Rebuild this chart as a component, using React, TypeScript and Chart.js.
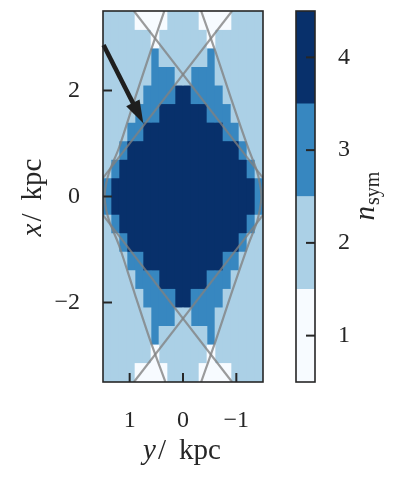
import React, { useEffect, useRef } from 'react';
import { Chart, registerables } from 'chart.js';

Chart.register(...registerables);

// ---- data ----
// column centres along y / kpc (left to right, axis reversed)
const columnCenters = [1.425, 1.275, 1.125, 0.975, 0.825, 0.675, 0.525, 0.375, 0.225, 0.075,
  -0.075, -0.225, -0.375, -0.525, -0.675, -0.825, -0.975, -1.125, -1.275, -1.425];
// row edges along x / kpc (top to bottom)
const rowEdges = [3.5, 3.15, 2.8, 2.45, 2.1, 1.75, 1.4, 1.05, 0.7, 0.35, 0,
  -0.35, -0.7, -1.05, -1.4, -1.75, -2.1, -2.45, -2.8, -3.15, -3.5];
// n_sym per cell, rows top to bottom, columns left to right
const nsymGrid = [
  [2,2,2,2,1,1,1,1,2,2,2,2,1,1,1,1,2,2,2,2],
  [2,2,2,2,2,2,1,2,2,2,2,2,2,1,2,2,2,2,2,2],
  [2,2,2,2,2,2,3,2,2,2,2,2,2,3,2,2,2,2,2,2],
  [2,2,2,2,2,2,3,3,3,2,2,3,3,3,2,2,2,2,2,2],
  [2,2,2,2,2,3,3,3,3,4,4,3,3,3,3,2,2,2,2,2],
  [2,2,2,2,3,3,3,4,4,4,4,4,4,3,3,3,2,2,2,2],
  [2,2,2,3,3,4,4,4,4,4,4,4,4,4,4,3,3,2,2,2],
  [2,2,3,4,4,4,4,4,4,4,4,4,4,4,4,4,4,3,2,2],
  [2,3,4,4,4,4,4,4,4,4,4,4,4,4,4,4,4,4,3,2],
  [3,4,4,4,4,4,4,4,4,4,4,4,4,4,4,4,4,4,4,3],
  [3,4,4,4,4,4,4,4,4,4,4,4,4,4,4,4,4,4,4,3],
  [2,3,4,4,4,4,4,4,4,4,4,4,4,4,4,4,4,4,3,2],
  [2,2,3,4,4,4,4,4,4,4,4,4,4,4,4,4,4,3,2,2],
  [2,2,2,3,3,4,4,4,4,4,4,4,4,4,4,3,3,2,2,2],
  [2,2,2,2,3,3,3,4,4,4,4,4,4,3,3,3,2,2,2,2],
  [2,2,2,2,2,3,3,3,3,4,4,3,3,3,3,2,2,2,2,2],
  [2,2,2,2,2,2,3,3,3,2,2,3,3,3,2,2,2,2,2,2],
  [2,2,2,2,2,2,3,2,2,2,2,2,2,3,2,2,2,2,2,2],
  [2,2,2,2,2,2,1,2,2,2,2,2,2,1,2,2,2,2,2,2],
  [2,2,2,2,1,1,1,1,2,2,2,2,1,1,1,1,2,2,2,2],
];
const levelValues = [1, 2, 3, 4];
const levelBounds = [0.5, 1.5, 2.5, 3.5, 4.5];
const levelColors = ['#f7fbff', '#abd0e6', '#3787c0', '#08306b'];

const xTickValues = [1, 0, -1];
const yTickValues = [-2, 0, 2];
const cbarTickValues = [1, 2, 3, 4];

// grey curves (y/kpc, x/kpc)
const steepLeft = [
  { x: 0.35, y: 3.5 }, { x: 0.62, y: 2.7 }, { x: 0.9, y: 1.85 }, { x: 1.2, y: 0.92 },
  { x: 1.37, y: 0.5 }, { x: 1.44, y: 0.25 }, { x: 1.47, y: 0 }, { x: 1.44, y: -0.25 },
  { x: 1.37, y: -0.5 }, { x: 1.2, y: -0.92 }, { x: 0.9, y: -1.85 }, { x: 0.62, y: -2.7 },
  { x: 0.33, y: -3.5 },
];
const steepRight = [
  { x: -0.34, y: 3.5 }, { x: -0.62, y: 2.7 }, { x: -0.9, y: 1.85 }, { x: -1.22, y: 0.92 },
  { x: -1.38, y: 0.5 }, { x: -1.44, y: 0.25 }, { x: -1.47, y: 0 }, { x: -1.44, y: -0.25 },
  { x: -1.38, y: -0.5 }, { x: -1.22, y: -0.92 }, { x: -0.9, y: -1.85 }, { x: -0.62, y: -2.7 },
  { x: -0.34, y: -3.5 },
];
const shallowA = [{ x: 0.92, y: 3.5 }, { x: -1.5, y: 0.35 }];
const shallowB = [{ x: -0.92, y: 3.5 }, { x: 1.5, y: 0.35 }];
const shallowC = [{ x: 0.92, y: -3.5 }, { x: -1.5, y: -0.35 }];
const shallowD = [{ x: -0.92, y: -3.5 }, { x: 1.5, y: -0.35 }];

const arrowTail = { x: 1.49, y: 2.86 };
const arrowHead = { x: 0.745, y: 1.38 };

// ---- styling ----
const FONT = '"Liberation Serif", "Times New Roman", serif';
const INK = '#262626';
const GREY = 'rgba(128,128,128,0.78)';

const fmt = (v: number) => (v < 0 ? '\u2212' + Math.abs(v) : String(v));

function buildBarDatasets() {
  return levelValues.map((lv, li) => {
    const data: { x: number; y: [number, number] }[] = [];
    columnCenters.forEach((cx, ci) => {
      let r = 0;
      while (r < nsymGrid.length) {
        if (nsymGrid[r][ci] === lv) {
          const start = r;
          while (r + 1 < nsymGrid.length && nsymGrid[r + 1][ci] === lv) r++;
          data.push({ x: cx, y: [rowEdges[r + 1], rowEdges[start]] });
        }
        r++;
      }
    });
    return {
      type: 'bar' as const,
      label: 'n_sym=' + lv,
      data,
      backgroundColor: levelColors[li],
      borderWidth: 0,
      grouped: false,
      categoryPercentage: 1,
      barPercentage: 1,
      order: 2,
    };
  });
}

function lineDs(points: { x: number; y: number }[], tension: number) {
  return {
    type: 'line' as const,
    data: points,
    borderColor: GREY,
    borderWidth: 2.2,
    pointRadius: 0,
    fill: false,
    tension,
    order: 1,
  };
}

function drawMixed(ctx: CanvasRenderingContext2D, parts: { t: string; italic: boolean; dx: number }[], size: number) {
  parts.forEach((p) => {
    ctx.font = (p.italic ? 'italic ' : '') + size + 'px ' + FONT;
    ctx.fillText(p.t, p.dx, 0);
  });
}

const titleParts = (v: string) => [
  { t: v, italic: true, dx: 0 },
  { t: '/', italic: false, dx: 15 },
  { t: 'kpc', italic: false, dx: 36 },
];

const mainDecor = {
  id: 'mainDecor',
  afterDatasetsDraw(chart: any) {
    const { ctx, scales } = chart;
    const xs = scales.x, ys = scales.y;
    const tx = xs.getPixelForValue(arrowTail.x), ty = ys.getPixelForValue(arrowTail.y);
    const hx = xs.getPixelForValue(arrowHead.x), hy = ys.getPixelForValue(arrowHead.y);
    const len = Math.hypot(hx - tx, hy - ty);
    const ux = (hx - tx) / len, uy = (hy - ty) / len;
    const headLen = 23, headHalf = 7.5;
    const bx = hx - ux * headLen, by = hy - uy * headLen;
    ctx.save();
    ctx.strokeStyle = '#1e1e1e';
    ctx.fillStyle = '#1e1e1e';
    ctx.lineWidth = 4.5;
    ctx.lineCap = 'butt';
    ctx.beginPath();
    ctx.moveTo(tx, ty);
    ctx.lineTo(bx + ux * 2, by + uy * 2);
    ctx.stroke();
    ctx.beginPath();
    ctx.moveTo(hx, hy);
    ctx.lineTo(bx - uy * headHalf, by + ux * headHalf);
    ctx.lineTo(bx + uy * headHalf, by - ux * headHalf);
    ctx.closePath();
    ctx.fill();
    ctx.restore();
  },
  afterDraw(chart: any) {
    const { ctx, chartArea, scales } = chart;
    const { left, right, top, bottom } = chartArea;
    ctx.save();
    ctx.strokeStyle = INK;
    ctx.lineWidth = 1.6;
    ctx.strokeRect(left, top, right - left, bottom - top);
    ctx.lineWidth = 2;
    yTickValues.forEach((v) => {
      const y = scales.y.getPixelForValue(v);
      ctx.beginPath(); ctx.moveTo(left, y); ctx.lineTo(left + 9, y); ctx.stroke();
    });
    xTickValues.forEach((v) => {
      const x = scales.x.getPixelForValue(v);
      ctx.beginPath(); ctx.moveTo(x, bottom); ctx.lineTo(x, bottom - 9); ctx.stroke();
    });
    ctx.fillStyle = INK;
    ctx.textBaseline = 'alphabetic';
    ctx.textAlign = 'left';
    const cx = (left + right) / 2;
    ctx.save();
    ctx.translate(cx - 40, 459);
    drawMixed(ctx, titleParts('y'), 29);
    ctx.restore();
    ctx.save();
    const cy = (top + bottom) / 2;
    ctx.translate(41, cy + 40);
    ctx.rotate(-Math.PI / 2);
    drawMixed(ctx, titleParts('x'), 29);
    ctx.restore();
    ctx.restore();
  },
};

const cbarDecor = {
  id: 'cbarDecor',
  afterDraw(chart: any) {
    const { ctx, chartArea, scales } = chart;
    const { left, right, top, bottom } = chartArea;
    ctx.save();
    ctx.strokeStyle = INK;
    ctx.lineWidth = 1.6;
    ctx.strokeRect(left, top, right - left, bottom - top);
    ctx.lineWidth = 2;
    cbarTickValues.forEach((v) => {
      const y = scales.y.getPixelForValue(v);
      ctx.beginPath(); ctx.moveTo(right, y); ctx.lineTo(right - 9, y); ctx.stroke();
    });
    ctx.fillStyle = INK;
    ctx.textBaseline = 'alphabetic';
    ctx.textAlign = 'left';
    ctx.translate(94, (top + bottom) / 2 + 24);
    ctx.rotate(-Math.PI / 2);
    ctx.font = 'italic 29px ' + FONT;
    ctx.fillText('n', 0, 0);
    const nw = ctx.measureText('n').width;
    ctx.font = '20px ' + FONT;
    ctx.fillText('sym', nw + 1, 5);
    ctx.restore();
  },
};

const zeroPad = (s: any) => {
  s.paddingTop = 0; s.paddingBottom = 0; s.paddingLeft = 0; s.paddingRight = 0;
};

export default function App() {
  const mainRef = useRef<HTMLCanvasElement>(null);
  const cbarRef = useRef<HTMLCanvasElement>(null);

  useEffect(() => {
    const tickFont = { family: FONT, size: 24 };
    const main = new Chart(mainRef.current as HTMLCanvasElement, {
      type: 'bar',
      data: {
        datasets: [
          lineDs(steepLeft, 0.3),
          lineDs(steepRight, 0.3),
          lineDs(shallowA, 0),
          lineDs(shallowB, 0),
          lineDs(shallowC, 0),
          lineDs(shallowD, 0),
          ...buildBarDatasets(),
        ] as any,
      },
      options: {
        responsive: false,
        devicePixelRatio: 1,
        animation: false,
        events: [],
        layout: { padding: { left: 0, top: 11, right: 17, bottom: 0 } },
        plugins: { legend: { display: false }, tooltip: { enabled: false } },
        scales: {
          x: {
            type: 'linear',
            min: -1.5,
            max: 1.5,
            reverse: true,
            offset: false,
            grid: { display: false, offset: false, drawTicks: false },
            border: { display: false },
            ticks: { font: tickFont, color: INK, padding: 24, maxRotation: 0, callback: (v: any) => fmt(Number(v)) },
            afterBuildTicks: (s: any) => { s.ticks = xTickValues.map((v) => ({ value: v })); },
            afterFit: (s: any) => { s.height = 101; zeroPad(s); },
          },
          y: {
            type: 'linear',
            min: -3.5,
            max: 3.5,
            grid: { display: false, drawTicks: false },
            border: { display: false },
            ticks: { font: tickFont, color: INK, padding: 23, callback: (v: any) => fmt(Number(v)) },
            afterBuildTicks: (s: any) => { s.ticks = yTickValues.map((v) => ({ value: v })); },
            afterFit: (s: any) => { s.width = 103; zeroPad(s); },
          },
        },
      } as any,
      plugins: [mainDecor],
    });

    const cbar = new Chart(cbarRef.current as HTMLCanvasElement, {
      type: 'bar',
      data: {
        labels: ['n_sym'],
        datasets: levelValues.map((lv, i) => ({
          label: String(lv),
          data: [[levelBounds[i], levelBounds[i + 1]]],
          backgroundColor: levelColors[i],
          borderWidth: 0,
          grouped: false,
          categoryPercentage: 1,
          barPercentage: 1,
        })) as any,
      },
      options: {
        responsive: false,
        devicePixelRatio: 1,
        animation: false,
        events: [],
        layout: { padding: { left: 16, top: 11, right: 0, bottom: 101 } },
        plugins: { legend: { display: false }, tooltip: { enabled: false } },
        scales: {
          x: { display: false },
          y: {
            position: 'right',
            min: 0.5,
            max: 4.5,
            grid: { display: false, drawTicks: false },
            border: { display: false },
            ticks: { font: tickFont, color: INK, padding: 23 },
            afterBuildTicks: (s: any) => { s.ticks = cbarTickValues.map((v) => ({ value: v })); },
            afterFit: (s: any) => { s.width = 84; zeroPad(s); },
          },
        },
      } as any,
      plugins: [cbarDecor],
    });

    return () => {
      main.destroy();
      cbar.destroy();
    };
  }, []);

  return (
    <div style={{ position: 'absolute', left: 0, top: 0, width: 399, height: 483, background: '#ffffff' }}>
      <canvas ref={mainRef} width={280} height={483}
        style={{ position: 'absolute', left: 0, top: 0, width: 280, height: 483 }} />
      <canvas ref={cbarRef} width={119} height={483}
        style={{ position: 'absolute', left: 280, top: 0, width: 119, height: 483 }} />
    </div>
  );
}
